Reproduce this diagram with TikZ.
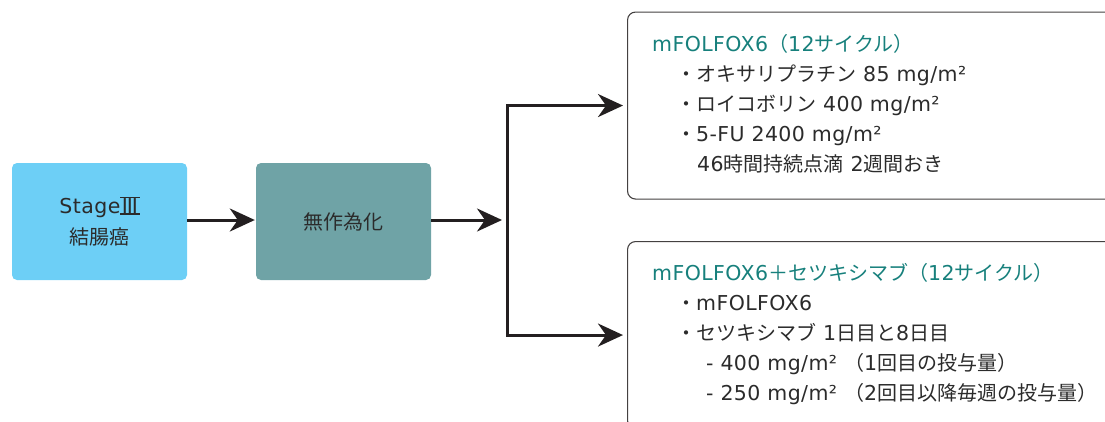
\documentclass[tikz,border=0pt]{standalone}
\usepackage{fontspec}
\setmainfont{Noto Sans CJK JP}
\newfontfamily\latfont[LetterSpace=2]{DejaVu Sans}
\newcommand{\lt}[1]{{\latfont\fontsize{20.5pt}{23pt}\selectfont #1}}
\newcommand{\romthree}{\raisebox{-1.3pt}{\vbox{\hrule height 1.3pt\hbox{\kern1.5pt\lt{I}\kern-1pt\lt{I}\kern-1pt\lt{I}\kern1.5pt}\hrule height 1.3pt}}}
\usetikzlibrary{arrows.meta}
\definecolor{boxblue}{HTML}{6DCFF6}
\definecolor{boxteal}{HTML}{6FA3A6}
\definecolor{headteal}{HTML}{17807C}
\definecolor{ink}{HTML}{231F20}
\definecolor{txt}{HTML}{2B2B2B}
\tikzset{
  stepbox/.style={rounded corners=5pt, minimum width=175pt, minimum height=117pt, inner sep=0pt, text=txt, font=\fontsize{20pt}{31pt}\selectfont, align=center},
  armbox/.style={draw=ink!85, line width=1.1pt, rounded corners=8pt, anchor=north west, minimum width=560pt, minimum height=187pt, inner sep=0pt},
  arr/.style={draw=ink, line width=3pt, -{Stealth[length=25pt,width=23pt,inset=8pt]}},
  line/.style={anchor=base west, inner sep=0pt, text=txt, font=\fontsize{20pt}{23pt}\selectfont},
  head/.style={line, text=headteal},
}
\begin{document}
\begin{tikzpicture}[x=1pt,y=-1pt]
\useasboundingbox (0,0) rectangle (1105,421);
\clip (0,0) rectangle (1105,421);
\node[stepbox, fill=boxblue] (stage) at (99.5,221.5) {\lt{Stage}\romthree\\結腸癌};
\node[stepbox, fill=boxteal] (rand) at (343.5,221.5) {無作為化};
\node[armbox] (armA) at (627,11.5) {};
\node[armbox] (armB) at (627,241) {};
\coordinate (split) at (507,220);
\draw[arr, shorten >=1pt] (stage.east |- split) -- (rand.west |- split);
\draw[arr, shorten >=5pt] (rand.east |- split) -- (split);
\draw[arr, shorten >=4pt] (split) |- (armA.west);
\draw[arr, shorten >=4pt] (split) |- (armB.west);
% arm A
\node[head] (a0) at (652,51) {\lt{mFOLFOX6}（\lt{12}サイクル）};
\node[line] (a1) at (676,81) {・オキサリプラチン\lt{ 85 mg/m²}};
\node[line] (a2) at (676,111) {・ロイコボリン\lt{ 400 mg/m²}};
\node[line] (a3) at (676,141) {・\lt{5-FU 2400 mg/m²}};
\node[line] (a4) at (697,171) {\lt{46}時間持続点滴\lt{ 2}週間おき};
% arm B
\node[head] (b0) at (652,280) {\lt{mFOLFOX6}＋セツキシマブ（\lt{12}サイクル）};
\node[line] (b1) at (676,310) {・\lt{mFOLFOX6}};
\node[line] (b2) at (676,340) {・セツキシマブ\lt{ 1}日目と\lt{8}日目};
\node[line] (b3) at (706,370) {\lt{- 400 mg/m² }（\lt{1}回目の投与量）};
\node[line] (b4) at (706,400) {\lt{- 250 mg/m² }（\lt{2}回目以降毎週の投与量）};
\end{tikzpicture}
\end{document}
